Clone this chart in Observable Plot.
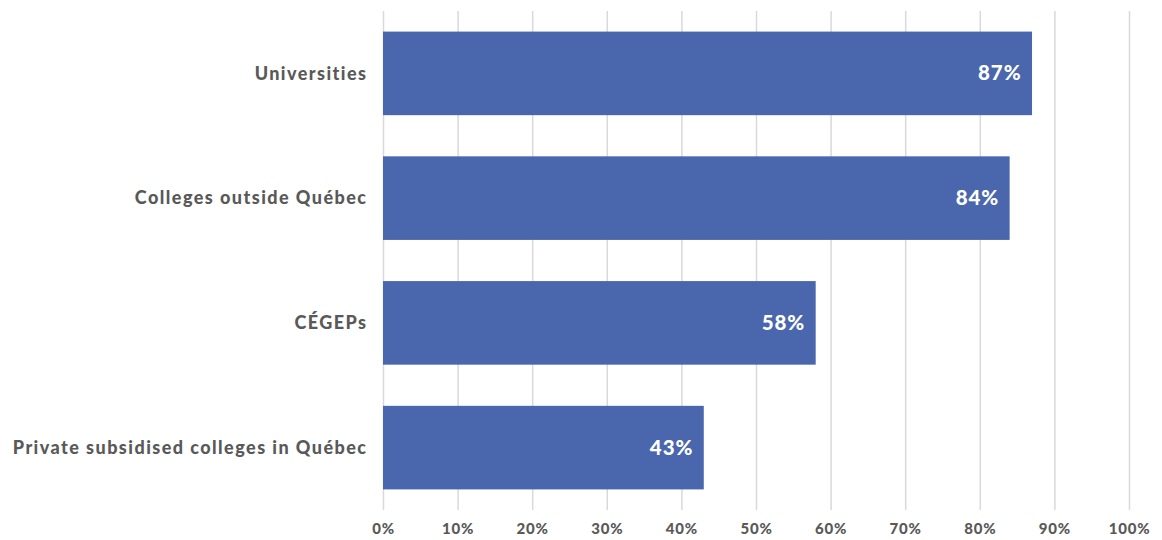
<!DOCTYPE html>
<html>
<head>
<meta charset="utf-8">
<script src="https://cdn.jsdelivr.net/npm/d3@7"></script>
<script src="https://cdn.jsdelivr.net/npm/@observablehq/plot@0.6"></script>
<style>
  html, body { margin: 0; padding: 0; background: #fff; }
  #chart svg { display: block; }
  .ylab text { letter-spacing: 1.45px; }
  .xlab text { letter-spacing: 0.8px; }
  .vlab text { letter-spacing: 0.9px; }
</style>
</head>
<body>
<div id="chart"></div>
<script>
const categories = ["Universities", "Colleges outside Québec", "CÉGEPs", "Private subsidised colleges in Québec"];
const values = [87, 84, 58, 43];
const xTicks = [0, 10, 20, 30, 40, 50, 60, 70, 80, 90, 100];

const data = categories.map((c, i) => ({category: c, value: values[i]}));

const font = "Lato, 'Open Sans', sans-serif";
const chart = Plot.plot({
  width: 1162,
  height: 540,
  marginLeft: 383,
  marginRight: 33,
  marginTop: 11,
  marginBottom: 30,
  style: {fontFamily: font, background: "#fff"},
  x: {domain: [0, 100], ticks: xTicks, tickFormat: d => d + "%", label: null},
  y: {domain: categories, paddingInner: 0.33, paddingOuter: 0.165, round: false, label: null},
  marks: [
    Plot.ruleX(xTicks, {stroke: "#d9d9d9", strokeWidth: 1.5}),
    Plot.barX(data, {x: "value", y: "category", fill: "#4a66ac"}),
    Plot.text(data, {x: "value", y: "category", text: d => d.value + "%", textAnchor: "end", dx: -11, fill: "#fff", fontSize: 20.5, fontWeight: 900, className: "vlab"}),
    Plot.axisX({ticks: xTicks, tickFormat: d => d + "%", tickSize: 0, tickPadding: 13, fontSize: 15, fontWeight: 900, fill: "#595959", label: null, className: "xlab"}),
    Plot.axisY({tickSize: 0, tickPadding: 16, fontSize: 18, fontWeight: 900, fill: "#595959", label: null, className: "ylab"})
  ]
});
document.getElementById("chart").appendChild(chart);
</script>
</body>
</html>
